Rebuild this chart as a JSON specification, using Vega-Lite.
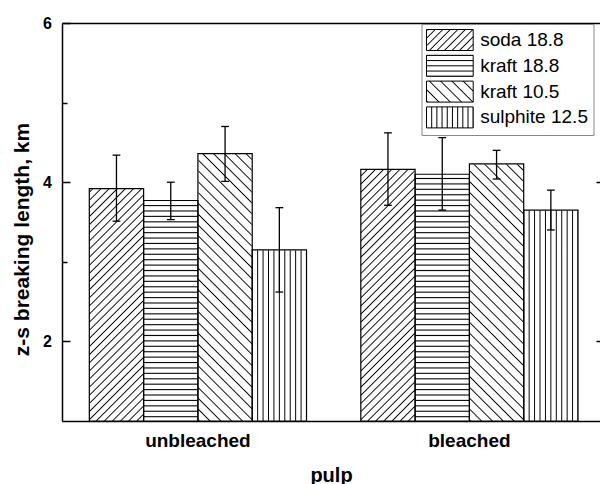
{
"$schema":"https://vega.github.io/schema/vega-lite/v6.json",
"width":538,"height":398,
"autosize":{"type":"none"},
"padding":{"left":62,"top":23,"right":0,"bottom":63},
"background":"white",
"config":{"view":{"stroke":null},"font":"Liberation Sans","axis":{"domainColor":"black","tickColor":"black","labelColor":"black","titleColor":"black","labelFont":"Liberation Sans","titleFont":"Liberation Sans","grid":false,"zindex":1}},
"data":{"values":[
{"pulp":"unbleached","type":"soda 18.8","value":3.92,"lo":3.51,"hi":4.34},
{"pulp":"unbleached","type":"kraft 18.8","value":3.77,"lo":3.53,"hi":4.0},
{"pulp":"unbleached","type":"kraft 10.5","value":4.36,"lo":4.01,"hi":4.70},
{"pulp":"unbleached","type":"sulphite 12.5","value":3.15,"lo":2.62,"hi":3.68},
{"pulp":"bleached","type":"soda 18.8","value":4.16,"lo":3.71,"hi":4.62},
{"pulp":"bleached","type":"kraft 18.8","value":4.10,"lo":3.65,"hi":4.56},
{"pulp":"bleached","type":"kraft 10.5","value":4.23,"lo":4.04,"hi":4.40},
{"pulp":"bleached","type":"sulphite 12.5","value":3.65,"lo":3.40,"hi":3.90}
]},
"encoding":{
"x":{"field":"pulp","type":"nominal","sort":["unbleached","bleached"],"scale":{"paddingInner":0.2,"paddingOuter":0.0908,"align":0.554},"axis":null},
"xOffset":{"field":"type","type":"nominal","sort":["soda 18.8","kraft 18.8","kraft 10.5","sulphite 12.5"],"scale":{"paddingInner":0,"paddingOuter":0}}
},
"layer":[
{"transform":[{"filter":"datum.type === 'soda 18.8'"}],
"mark":{"type":"bar","stroke":null,"fill":{"gradient":"linear","id":"bar_soda","x1":0,"y1":0,"x2":0.2316,"y2":1.1542,"stops":[
{"offset":0,"color":"#fff"},{"offset":0.004,"color":"#000"},{"offset":0.008,"color":"#fff"},
{"offset":0.025,"color":"#fff"},{"offset":0.029,"color":"#000"},{"offset":0.033,"color":"#fff"},
{"offset":0.05,"color":"#fff"},{"offset":0.054,"color":"#000"},{"offset":0.058,"color":"#fff"},
{"offset":0.075,"color":"#fff"},{"offset":0.079,"color":"#000"},{"offset":0.083,"color":"#fff"},
{"offset":0.1,"color":"#fff"},{"offset":0.104,"color":"#000"},{"offset":0.108,"color":"#fff"},
{"offset":0.125,"color":"#fff"},{"offset":0.129,"color":"#000"},{"offset":0.133,"color":"#fff"},
{"offset":0.15,"color":"#fff"},{"offset":0.154,"color":"#000"},{"offset":0.158,"color":"#fff"},
{"offset":0.175,"color":"#fff"},{"offset":0.179,"color":"#000"},{"offset":0.183,"color":"#fff"},
{"offset":0.2,"color":"#fff"},{"offset":0.204,"color":"#000"},{"offset":0.208,"color":"#fff"},
{"offset":0.225,"color":"#fff"},{"offset":0.229,"color":"#000"},{"offset":0.233,"color":"#fff"},
{"offset":0.25,"color":"#fff"},{"offset":0.254,"color":"#000"},{"offset":0.258,"color":"#fff"},
{"offset":0.275,"color":"#fff"},{"offset":0.279,"color":"#000"},{"offset":0.283,"color":"#fff"},
{"offset":0.3,"color":"#fff"},{"offset":0.304,"color":"#000"},{"offset":0.308,"color":"#fff"},
{"offset":0.325,"color":"#fff"},{"offset":0.329,"color":"#000"},{"offset":0.333,"color":"#fff"},
{"offset":0.35,"color":"#fff"},{"offset":0.354,"color":"#000"},{"offset":0.358,"color":"#fff"},
{"offset":0.375,"color":"#fff"},{"offset":0.379,"color":"#000"},{"offset":0.383,"color":"#fff"},
{"offset":0.4,"color":"#fff"},{"offset":0.404,"color":"#000"},{"offset":0.408,"color":"#fff"},
{"offset":0.425,"color":"#fff"},{"offset":0.429,"color":"#000"},{"offset":0.433,"color":"#fff"},
{"offset":0.45,"color":"#fff"},{"offset":0.454,"color":"#000"},{"offset":0.458,"color":"#fff"},
{"offset":0.475,"color":"#fff"},{"offset":0.479,"color":"#000"},{"offset":0.483,"color":"#fff"},
{"offset":0.5,"color":"#fff"},{"offset":0.504,"color":"#000"},{"offset":0.508,"color":"#fff"},
{"offset":0.525,"color":"#fff"},{"offset":0.529,"color":"#000"},{"offset":0.533,"color":"#fff"},
{"offset":0.55,"color":"#fff"},{"offset":0.554,"color":"#000"},{"offset":0.558,"color":"#fff"},
{"offset":0.575,"color":"#fff"},{"offset":0.579,"color":"#000"},{"offset":0.583,"color":"#fff"},
{"offset":0.6,"color":"#fff"},{"offset":0.604,"color":"#000"},{"offset":0.608,"color":"#fff"},
{"offset":0.625,"color":"#fff"},{"offset":0.629,"color":"#000"},{"offset":0.633,"color":"#fff"},
{"offset":0.65,"color":"#fff"},{"offset":0.654,"color":"#000"},{"offset":0.658,"color":"#fff"},
{"offset":0.675,"color":"#fff"},{"offset":0.679,"color":"#000"},{"offset":0.683,"color":"#fff"},
{"offset":0.7,"color":"#fff"},{"offset":0.704,"color":"#000"},{"offset":0.708,"color":"#fff"},
{"offset":0.725,"color":"#fff"},{"offset":0.729,"color":"#000"},{"offset":0.733,"color":"#fff"},
{"offset":0.75,"color":"#fff"},{"offset":0.754,"color":"#000"},{"offset":0.758,"color":"#fff"},
{"offset":0.775,"color":"#fff"},{"offset":0.779,"color":"#000"},{"offset":0.783,"color":"#fff"},
{"offset":0.8,"color":"#fff"},{"offset":0.804,"color":"#000"},{"offset":0.808,"color":"#fff"},
{"offset":0.825,"color":"#fff"},{"offset":0.829,"color":"#000"},{"offset":0.833,"color":"#fff"},
{"offset":0.85,"color":"#fff"},{"offset":0.854,"color":"#000"},{"offset":0.858,"color":"#fff"},
{"offset":0.875,"color":"#fff"},{"offset":0.879,"color":"#000"},{"offset":0.883,"color":"#fff"},
{"offset":0.9,"color":"#fff"},{"offset":0.904,"color":"#000"},{"offset":0.908,"color":"#fff"},
{"offset":0.925,"color":"#fff"},{"offset":0.929,"color":"#000"},{"offset":0.933,"color":"#fff"},
{"offset":0.95,"color":"#fff"},{"offset":0.954,"color":"#000"},{"offset":0.958,"color":"#fff"},
{"offset":0.975,"color":"#fff"},{"offset":0.979,"color":"#000"},{"offset":0.983,"color":"#fff"},
{"offset":1,"color":"#fff"}]}},
"encoding":{"y":{"datum":4.4,"type":"quantitative","scale":{"domain":[1,6],"nice":false,"zero":false},"axis":null},"y2":{"datum":1}}},
{"transform":[{"filter":"datum.type === 'kraft 18.8'"}],
"mark":{"type":"bar","stroke":null,"fill":{"gradient":"linear","id":"bar_k188","x1":0,"y1":0,"x2":0,"y2":1,"stops":[
{"offset":0,"color":"#fff"},{"offset":0.004,"color":"#000"},{"offset":0.008,"color":"#fff"},
{"offset":0.02,"color":"#fff"},{"offset":0.024,"color":"#000"},{"offset":0.028,"color":"#fff"},
{"offset":0.04,"color":"#fff"},{"offset":0.044,"color":"#000"},{"offset":0.048,"color":"#fff"},
{"offset":0.06,"color":"#fff"},{"offset":0.064,"color":"#000"},{"offset":0.068,"color":"#fff"},
{"offset":0.08,"color":"#fff"},{"offset":0.084,"color":"#000"},{"offset":0.088,"color":"#fff"},
{"offset":0.1,"color":"#fff"},{"offset":0.104,"color":"#000"},{"offset":0.108,"color":"#fff"},
{"offset":0.12,"color":"#fff"},{"offset":0.124,"color":"#000"},{"offset":0.128,"color":"#fff"},
{"offset":0.14,"color":"#fff"},{"offset":0.144,"color":"#000"},{"offset":0.148,"color":"#fff"},
{"offset":0.16,"color":"#fff"},{"offset":0.164,"color":"#000"},{"offset":0.168,"color":"#fff"},
{"offset":0.18,"color":"#fff"},{"offset":0.184,"color":"#000"},{"offset":0.188,"color":"#fff"},
{"offset":0.2,"color":"#fff"},{"offset":0.204,"color":"#000"},{"offset":0.208,"color":"#fff"},
{"offset":0.22,"color":"#fff"},{"offset":0.224,"color":"#000"},{"offset":0.228,"color":"#fff"},
{"offset":0.24,"color":"#fff"},{"offset":0.244,"color":"#000"},{"offset":0.248,"color":"#fff"},
{"offset":0.26,"color":"#fff"},{"offset":0.264,"color":"#000"},{"offset":0.268,"color":"#fff"},
{"offset":0.28,"color":"#fff"},{"offset":0.284,"color":"#000"},{"offset":0.288,"color":"#fff"},
{"offset":0.3,"color":"#fff"},{"offset":0.304,"color":"#000"},{"offset":0.308,"color":"#fff"},
{"offset":0.32,"color":"#fff"},{"offset":0.324,"color":"#000"},{"offset":0.328,"color":"#fff"},
{"offset":0.34,"color":"#fff"},{"offset":0.344,"color":"#000"},{"offset":0.348,"color":"#fff"},
{"offset":0.36,"color":"#fff"},{"offset":0.364,"color":"#000"},{"offset":0.368,"color":"#fff"},
{"offset":0.38,"color":"#fff"},{"offset":0.384,"color":"#000"},{"offset":0.388,"color":"#fff"},
{"offset":0.4,"color":"#fff"},{"offset":0.404,"color":"#000"},{"offset":0.408,"color":"#fff"},
{"offset":0.42,"color":"#fff"},{"offset":0.424,"color":"#000"},{"offset":0.428,"color":"#fff"},
{"offset":0.44,"color":"#fff"},{"offset":0.444,"color":"#000"},{"offset":0.448,"color":"#fff"},
{"offset":0.46,"color":"#fff"},{"offset":0.464,"color":"#000"},{"offset":0.468,"color":"#fff"},
{"offset":0.48,"color":"#fff"},{"offset":0.484,"color":"#000"},{"offset":0.488,"color":"#fff"},
{"offset":0.5,"color":"#fff"},{"offset":0.504,"color":"#000"},{"offset":0.508,"color":"#fff"},
{"offset":0.52,"color":"#fff"},{"offset":0.524,"color":"#000"},{"offset":0.528,"color":"#fff"},
{"offset":0.54,"color":"#fff"},{"offset":0.544,"color":"#000"},{"offset":0.548,"color":"#fff"},
{"offset":0.56,"color":"#fff"},{"offset":0.564,"color":"#000"},{"offset":0.568,"color":"#fff"},
{"offset":0.58,"color":"#fff"},{"offset":0.584,"color":"#000"},{"offset":0.588,"color":"#fff"},
{"offset":0.6,"color":"#fff"},{"offset":0.604,"color":"#000"},{"offset":0.608,"color":"#fff"},
{"offset":0.62,"color":"#fff"},{"offset":0.624,"color":"#000"},{"offset":0.628,"color":"#fff"},
{"offset":0.64,"color":"#fff"},{"offset":0.644,"color":"#000"},{"offset":0.648,"color":"#fff"},
{"offset":0.66,"color":"#fff"},{"offset":0.664,"color":"#000"},{"offset":0.668,"color":"#fff"},
{"offset":0.68,"color":"#fff"},{"offset":0.684,"color":"#000"},{"offset":0.688,"color":"#fff"},
{"offset":0.7,"color":"#fff"},{"offset":0.704,"color":"#000"},{"offset":0.708,"color":"#fff"},
{"offset":0.72,"color":"#fff"},{"offset":0.724,"color":"#000"},{"offset":0.728,"color":"#fff"},
{"offset":0.74,"color":"#fff"},{"offset":0.744,"color":"#000"},{"offset":0.748,"color":"#fff"},
{"offset":0.76,"color":"#fff"},{"offset":0.764,"color":"#000"},{"offset":0.768,"color":"#fff"},
{"offset":0.78,"color":"#fff"},{"offset":0.784,"color":"#000"},{"offset":0.788,"color":"#fff"},
{"offset":0.8,"color":"#fff"},{"offset":0.804,"color":"#000"},{"offset":0.808,"color":"#fff"},
{"offset":0.82,"color":"#fff"},{"offset":0.824,"color":"#000"},{"offset":0.828,"color":"#fff"},
{"offset":0.84,"color":"#fff"},{"offset":0.844,"color":"#000"},{"offset":0.848,"color":"#fff"},
{"offset":0.86,"color":"#fff"},{"offset":0.864,"color":"#000"},{"offset":0.868,"color":"#fff"},
{"offset":0.88,"color":"#fff"},{"offset":0.884,"color":"#000"},{"offset":0.888,"color":"#fff"},
{"offset":0.9,"color":"#fff"},{"offset":0.904,"color":"#000"},{"offset":0.908,"color":"#fff"},
{"offset":0.92,"color":"#fff"},{"offset":0.924,"color":"#000"},{"offset":0.928,"color":"#fff"},
{"offset":0.94,"color":"#fff"},{"offset":0.944,"color":"#000"},{"offset":0.948,"color":"#fff"},
{"offset":0.96,"color":"#fff"},{"offset":0.964,"color":"#000"},{"offset":0.968,"color":"#fff"},
{"offset":0.98,"color":"#fff"},{"offset":0.984,"color":"#000"},{"offset":0.988,"color":"#fff"},
{"offset":1,"color":"#fff"}]}},
"encoding":{"y":{"datum":4.4,"type":"quantitative","scale":{"domain":[1,6],"nice":false,"zero":false},"axis":null},"y2":{"datum":1}}},
{"transform":[{"filter":"datum.type === 'kraft 10.5'"}],
"mark":{"type":"bar","stroke":null,"fill":{"gradient":"linear","id":"bar_k105","x1":0,"y1":1,"x2":0.2316,"y2":-0.1542,"stops":[
{"offset":0,"color":"#fff"},{"offset":0.004,"color":"#000"},{"offset":0.008,"color":"#fff"},
{"offset":0.0333,"color":"#fff"},{"offset":0.0373,"color":"#000"},{"offset":0.0413,"color":"#fff"},
{"offset":0.0667,"color":"#fff"},{"offset":0.0707,"color":"#000"},{"offset":0.0747,"color":"#fff"},
{"offset":0.1,"color":"#fff"},{"offset":0.104,"color":"#000"},{"offset":0.108,"color":"#fff"},
{"offset":0.1333,"color":"#fff"},{"offset":0.1373,"color":"#000"},{"offset":0.1413,"color":"#fff"},
{"offset":0.1667,"color":"#fff"},{"offset":0.1707,"color":"#000"},{"offset":0.1747,"color":"#fff"},
{"offset":0.2,"color":"#fff"},{"offset":0.204,"color":"#000"},{"offset":0.208,"color":"#fff"},
{"offset":0.2333,"color":"#fff"},{"offset":0.2373,"color":"#000"},{"offset":0.2413,"color":"#fff"},
{"offset":0.2667,"color":"#fff"},{"offset":0.2707,"color":"#000"},{"offset":0.2747,"color":"#fff"},
{"offset":0.3,"color":"#fff"},{"offset":0.304,"color":"#000"},{"offset":0.308,"color":"#fff"},
{"offset":0.3333,"color":"#fff"},{"offset":0.3373,"color":"#000"},{"offset":0.3413,"color":"#fff"},
{"offset":0.3667,"color":"#fff"},{"offset":0.3707,"color":"#000"},{"offset":0.3747,"color":"#fff"},
{"offset":0.4,"color":"#fff"},{"offset":0.404,"color":"#000"},{"offset":0.408,"color":"#fff"},
{"offset":0.4333,"color":"#fff"},{"offset":0.4373,"color":"#000"},{"offset":0.4413,"color":"#fff"},
{"offset":0.4667,"color":"#fff"},{"offset":0.4707,"color":"#000"},{"offset":0.4747,"color":"#fff"},
{"offset":0.5,"color":"#fff"},{"offset":0.504,"color":"#000"},{"offset":0.508,"color":"#fff"},
{"offset":0.5333,"color":"#fff"},{"offset":0.5373,"color":"#000"},{"offset":0.5413,"color":"#fff"},
{"offset":0.5667,"color":"#fff"},{"offset":0.5707,"color":"#000"},{"offset":0.5747,"color":"#fff"},
{"offset":0.6,"color":"#fff"},{"offset":0.604,"color":"#000"},{"offset":0.608,"color":"#fff"},
{"offset":0.6333,"color":"#fff"},{"offset":0.6373,"color":"#000"},{"offset":0.6413,"color":"#fff"},
{"offset":0.6667,"color":"#fff"},{"offset":0.6707,"color":"#000"},{"offset":0.6747,"color":"#fff"},
{"offset":0.7,"color":"#fff"},{"offset":0.704,"color":"#000"},{"offset":0.708,"color":"#fff"},
{"offset":0.7333,"color":"#fff"},{"offset":0.7373,"color":"#000"},{"offset":0.7413,"color":"#fff"},
{"offset":0.7667,"color":"#fff"},{"offset":0.7707,"color":"#000"},{"offset":0.7747,"color":"#fff"},
{"offset":0.8,"color":"#fff"},{"offset":0.804,"color":"#000"},{"offset":0.808,"color":"#fff"},
{"offset":0.8333,"color":"#fff"},{"offset":0.8373,"color":"#000"},{"offset":0.8413,"color":"#fff"},
{"offset":0.8667,"color":"#fff"},{"offset":0.8707,"color":"#000"},{"offset":0.8747,"color":"#fff"},
{"offset":0.9,"color":"#fff"},{"offset":0.904,"color":"#000"},{"offset":0.908,"color":"#fff"},
{"offset":0.9333,"color":"#fff"},{"offset":0.9373,"color":"#000"},{"offset":0.9413,"color":"#fff"},
{"offset":0.9667,"color":"#fff"},{"offset":0.9707,"color":"#000"},{"offset":0.9747,"color":"#fff"},
{"offset":1,"color":"#fff"}]}},
"encoding":{"y":{"datum":4.4,"type":"quantitative","scale":{"domain":[1,6],"nice":false,"zero":false},"axis":null},"y2":{"datum":1}}},
{"transform":[{"filter":"datum.type === 'sulphite 12.5'"}],
"mark":{"type":"bar","stroke":null,"fill":{"gradient":"linear","id":"bar_sul","x1":0,"y1":0,"x2":1,"y2":0,"stops":[
{"offset":0,"color":"#000"},{"offset":0.018,"color":"#fff"},
{"offset":0.082,"color":"#fff"},{"offset":0.1,"color":"#000"},{"offset":0.118,"color":"#fff"},
{"offset":0.182,"color":"#fff"},{"offset":0.2,"color":"#000"},{"offset":0.218,"color":"#fff"},
{"offset":0.282,"color":"#fff"},{"offset":0.3,"color":"#000"},{"offset":0.318,"color":"#fff"},
{"offset":0.382,"color":"#fff"},{"offset":0.4,"color":"#000"},{"offset":0.418,"color":"#fff"},
{"offset":0.482,"color":"#fff"},{"offset":0.5,"color":"#000"},{"offset":0.518,"color":"#fff"},
{"offset":0.582,"color":"#fff"},{"offset":0.6,"color":"#000"},{"offset":0.618,"color":"#fff"},
{"offset":0.682,"color":"#fff"},{"offset":0.7,"color":"#000"},{"offset":0.718,"color":"#fff"},
{"offset":0.782,"color":"#fff"},{"offset":0.8,"color":"#000"},{"offset":0.818,"color":"#fff"},
{"offset":0.882,"color":"#fff"},{"offset":0.9,"color":"#000"},{"offset":0.918,"color":"#fff"},
{"offset":0.982,"color":"#fff"},{"offset":1,"color":"#000"}]}},
"encoding":{"y":{"datum":4.4,"type":"quantitative","scale":{"domain":[1,6],"nice":false,"zero":false},"axis":null},"y2":{"datum":1}}},
{"transform":[{"filter":"datum.type === 'soda 18.8'"}],
"mark":{"type":"bar","stroke":null,"fill":{"gradient":"linear","id":"lg_soda","x1":0,"y1":0,"x2":1.2058,"y2":0.5422,"stops":[
{"offset":0,"color":"#fff"},{"offset":0.019,"color":"#000"},{"offset":0.038,"color":"#fff"},
{"offset":0.1111,"color":"#fff"},{"offset":0.1301,"color":"#000"},{"offset":0.1491,"color":"#fff"},
{"offset":0.2222,"color":"#fff"},{"offset":0.2412,"color":"#000"},{"offset":0.2602,"color":"#fff"},
{"offset":0.3333,"color":"#fff"},{"offset":0.3523,"color":"#000"},{"offset":0.3713,"color":"#fff"},
{"offset":0.4444,"color":"#fff"},{"offset":0.4634,"color":"#000"},{"offset":0.4824,"color":"#fff"},
{"offset":0.5556,"color":"#fff"},{"offset":0.5746,"color":"#000"},{"offset":0.5936,"color":"#fff"},
{"offset":0.6667,"color":"#fff"},{"offset":0.6857,"color":"#000"},{"offset":0.7047,"color":"#fff"},
{"offset":0.7778,"color":"#fff"},{"offset":0.7968,"color":"#000"},{"offset":0.8158,"color":"#fff"},
{"offset":0.8889,"color":"#fff"},{"offset":0.9079,"color":"#000"},{"offset":0.9269,"color":"#fff"},
{"offset":1,"color":"#fff"}]}},
"encoding":{"y":{"datum":1,"type":"quantitative","scale":{"domain":[1,6],"nice":false,"zero":false},"axis":null},"y2":{"datum":1}}},
{"transform":[{"filter":"datum.type === 'kraft 18.8'"}],
"mark":{"type":"bar","stroke":null,"fill":{"gradient":"linear","id":"lg_k188","x1":0,"y1":0,"x2":0,"y2":1,"stops":[
{"offset":0,"color":"#000"},{"offset":0.048,"color":"#fff"},{"offset":0.202,"color":"#fff"},{"offset":0.25,"color":"#000"},{"offset":0.298,"color":"#fff"},{"offset":0.452,"color":"#fff"},{"offset":0.5,"color":"#000"},{"offset":0.548,"color":"#fff"},{"offset":0.702,"color":"#fff"},{"offset":0.75,"color":"#000"},{"offset":0.798,"color":"#fff"},{"offset":0.952,"color":"#fff"},{"offset":1,"color":"#000"}]}},
"encoding":{"y":{"datum":1,"type":"quantitative","scale":{"domain":[1,6],"nice":false,"zero":false},"axis":null},"y2":{"datum":1}}},
{"transform":[{"filter":"datum.type === 'kraft 10.5'"}],
"mark":{"type":"bar","stroke":null,"fill":{"gradient":"linear","id":"lg_k105","x1":0,"y1":1,"x2":1.2058,"y2":0.4578,"stops":[
{"offset":0,"color":"#fff"},{"offset":0.019,"color":"#000"},{"offset":0.038,"color":"#fff"},
{"offset":0.1667,"color":"#fff"},{"offset":0.1857,"color":"#000"},{"offset":0.2047,"color":"#fff"},
{"offset":0.3333,"color":"#fff"},{"offset":0.3523,"color":"#000"},{"offset":0.3713,"color":"#fff"},
{"offset":0.5,"color":"#fff"},{"offset":0.519,"color":"#000"},{"offset":0.538,"color":"#fff"},
{"offset":0.6667,"color":"#fff"},{"offset":0.6857,"color":"#000"},{"offset":0.7047,"color":"#fff"},
{"offset":0.8333,"color":"#fff"},{"offset":0.8523,"color":"#000"},{"offset":0.8713,"color":"#fff"},
{"offset":1,"color":"#fff"}]}},
"encoding":{"y":{"datum":1,"type":"quantitative","scale":{"domain":[1,6],"nice":false,"zero":false},"axis":null},"y2":{"datum":1}}},
{"transform":[{"filter":"datum.type === 'sulphite 12.5'"}],
"mark":{"type":"bar","stroke":null,"fill":{"gradient":"linear","id":"lg_sul","x1":0,"y1":0,"x2":1,"y2":0,"stops":[
{"offset":0,"color":"#000"},{"offset":0.0214,"color":"#fff"},
{"offset":0.0897,"color":"#fff"},{"offset":0.1111,"color":"#000"},{"offset":0.1325,"color":"#fff"},
{"offset":0.2008,"color":"#fff"},{"offset":0.2222,"color":"#000"},{"offset":0.2436,"color":"#fff"},
{"offset":0.3119,"color":"#fff"},{"offset":0.3333,"color":"#000"},{"offset":0.3547,"color":"#fff"},
{"offset":0.423,"color":"#fff"},{"offset":0.4444,"color":"#000"},{"offset":0.4658,"color":"#fff"},
{"offset":0.5342,"color":"#fff"},{"offset":0.5556,"color":"#000"},{"offset":0.577,"color":"#fff"},
{"offset":0.6453,"color":"#fff"},{"offset":0.6667,"color":"#000"},{"offset":0.6881,"color":"#fff"},
{"offset":0.7564,"color":"#fff"},{"offset":0.7778,"color":"#000"},{"offset":0.7992,"color":"#fff"},
{"offset":0.8675,"color":"#fff"},{"offset":0.8889,"color":"#000"},{"offset":0.9103,"color":"#fff"},
{"offset":0.9786,"color":"#fff"},{"offset":1,"color":"#000"}]}},
"encoding":{"y":{"datum":1,"type":"quantitative","scale":{"domain":[1,6],"nice":false,"zero":false},"axis":null},"y2":{"datum":1}}},
{"mark":{"type":"bar","stroke":null},
"encoding":{
"y":{"datum":1,"type":"quantitative","scale":{"domain":[1,6],"nice":false,"zero":false},"axis":null},
"y2":{"datum":1},
"fill":{"field":"type","type":"nominal","scale":{"domain":["soda 18.8","kraft 18.8","kraft 10.5","sulphite 12.5"],"range":["url(#lg_soda)","url(#lg_k188)","url(#lg_k105)","url(#lg_sul)"]},
"legend":{"orient":"none","legendX":359.5,"legendY":1,"title":null,"padding":5,"fillColor":"white","strokeColor":"#888","cornerRadius":0,
"symbolType":"M-2.224,-1H2.224V1H-2.224Z","symbolSize":441,"symbolStrokeWidth":1,"symbolStrokeColor":"black","symbolOpacity":1,"symbolOffset":12.35,
"labelOffset":19.35,"labelFontSize":19,"labelFont":"Liberation Sans","labelColor":"black","labelLimit":300,"rowPadding":-0.2}}}},
{"mark":{"type":"bar","fill":"white","stroke":"white","strokeWidth":1},
"encoding":{
"x":{"field":"pulp","type":"nominal","sort":["unbleached","bleached"],"scale":{"paddingInner":0.2,"paddingOuter":0.0908,"align":0.554},"axis":{"orient":"top","domain":true,"domainWidth":1.5,"ticks":false,"labels":false,"title":null}},
"y":{"field":"value","type":"quantitative","scale":{"domain":[1,6],"nice":false,"zero":false},"axis":{"orient":"left","values":[3,5],"tickSize":-5,"tickWidth":1.5,"labels":false,"domain":false,"title":null}},
"y2":{"datum":4.46}}},
{"mark":{"type":"bar","fill":"transparent","stroke":"black","strokeWidth":1.2},
"encoding":{
"x":{"field":"pulp","type":"nominal","sort":["unbleached","bleached"],"scale":{"paddingInner":0.2,"paddingOuter":0.0908,"align":0.554},"axis":{"orient":"bottom","domain":true,"domainWidth":1.5,"ticks":false,"labelFontSize":19,"labelFontWeight":"bold","labelPadding":10,"labelAngle":0,"title":"pulp","titleFontSize":20,"titleFontWeight":"bold","titleY":60,"titleBaseline":"alphabetic"}},
"y":{"field":"value","type":"quantitative","scale":{"domain":[1,6],"nice":false,"zero":false},"axis":{"orient":"left","values":[2,4,6],"tickSize":-8,"tickWidth":1.5,"domainWidth":1.5,"labelFontSize":16,"labelFontWeight":"bold","labelPadding":18.5,"labelFlush":false,"title":"z-s breaking length, km","titleFontSize":21,"titleFontWeight":"bold","titleX":-34,"titleY":216,"titleBaseline":"alphabetic","titleAngle":-90}},
"y2":{"datum":1}}},
{"mark":{"type":"rule","color":"black","strokeWidth":1.3},
"encoding":{
"y":{"field":"lo","type":"quantitative","scale":{"domain":[1,6],"nice":false,"zero":false},"axis":{"orient":"right","values":[2,4],"tickSize":-4,"tickWidth":1.5,"labels":false,"domain":false,"title":null}},
"y2":{"field":"hi"}}},
{"mark":{"type":"point","shape":"M-1,0H1","size":60,"filled":false,"stroke":"black","strokeWidth":1.3,"opacity":1},
"encoding":{"y":{"field":"hi","type":"quantitative","scale":{"domain":[1,6],"nice":false,"zero":false},"axis":null}}},
{"mark":{"type":"point","shape":"M-1,0H1","size":60,"filled":false,"stroke":"black","strokeWidth":1.3,"opacity":1},
"encoding":{"y":{"field":"lo","type":"quantitative","scale":{"domain":[1,6],"nice":false,"zero":false},"axis":null}}}
],
"resolve":{"axis":{"x":"independent","y":"independent"}}
}
